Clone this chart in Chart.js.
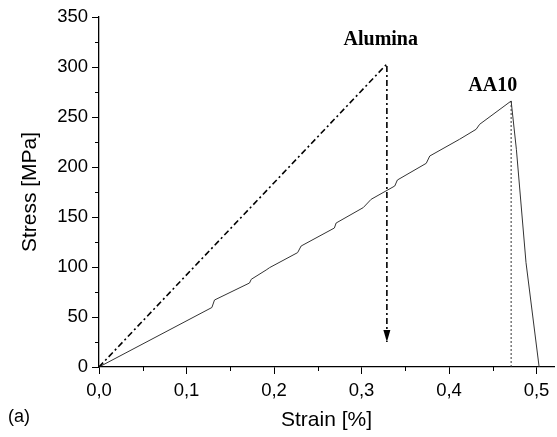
<!DOCTYPE html>
<html>
<head>
<meta charset="utf-8">
<script src="https://cdn.jsdelivr.net/npm/chart.js@4"></script>
<style>
  html, body { margin: 0; padding: 0; background: #fff; }
  #wrap { width: 557px; height: 437px; }
</style>
</head>
<body>
<div id="wrap"><canvas id="chart" width="557" height="437"></canvas></div>
<script>
// data
const aluminaStrain = [0, 0.329, 0.329];
const aluminaStress = [0, 303, 25];

const aa10Strain = [0, 0.129, 0.132, 0.172, 0.174, 0.191, 0.195, 0.227, 0.231, 0.269, 0.271, 0.302, 0.311, 0.338, 0.341, 0.374, 0.378, 0.412, 0.431, 0.435, 0.471, 0.477, 0.488, 0.503];
const aa10Stress = [0, 59.5, 67, 84, 87.7, 97, 99.4, 114.4, 121, 139, 144, 159.4, 167.7, 181, 187, 203.7, 211, 227.7, 237.7, 242.7, 266, 217.7, 104.4, 0];

// dotted drop line at the AA10 peak
const peakStrain = [0.471, 0.471];
const peakStress = [266, 0];

const xTickValues = [0, 0.05, 0.1, 0.15, 0.2, 0.25, 0.3, 0.35, 0.4, 0.45, 0.5];
const xTickLabels = ['0,0', '', '0,1', '', '0,2', '', '0,3', '', '0,4', '', '0,5'];
const yTickValues = [0, 25, 50, 75, 100, 125, 150, 175, 200, 225, 250, 275, 300, 325, 350];
const yTickLabels = ['0', '', '50', '', '100', '', '150', '', '200', '', '250', '', '300', '', '350'];

const seriesNames = ['Alumina', 'AA10'];
const nameStrain = [0.322, 0.450];
const nameStress = [322, 276];

const pts = (xs, ys) => xs.map((x, i) => ({ x: x, y: ys[i] }));

const tickFont = { family: 'Liberation Sans', size: 18.5 };
const titleFont = { family: 'Liberation Sans', size: 21 };

// minor ticks are shorter, draw them here; major ones come from the grid
const minorTicks = {
  id: 'minorTicks',
  afterDraw(chart) {
    const ctx = chart.ctx;
    const xs = chart.scales.x, ys = chart.scales.y;
    ctx.save();
    ctx.strokeStyle = '#000';
    ctx.lineWidth = 1;
    xTickValues.forEach((v, i) => {
      if (xTickLabels[i] !== '') return;
      const px = Math.round(xs.getPixelForValue(v)) + 0.5;
      ctx.beginPath(); ctx.moveTo(px, ys.bottom); ctx.lineTo(px, ys.bottom + 4); ctx.stroke();
    });
    yTickValues.forEach((v, i) => {
      if (yTickLabels[i] !== '') return;
      const py = Math.round(ys.getPixelForValue(v)) + 0.5;
      ctx.beginPath(); ctx.moveTo(xs.left, py); ctx.lineTo(xs.left - 4, py); ctx.stroke();
    });
    ctx.restore();
  }
};

const extras = {
  id: 'extras',
  afterDatasetsDraw(chart) {
    const ctx = chart.ctx;
    const xs = chart.scales.x, ys = chart.scales.y;
    ctx.save();
    // arrow head at the end of the alumina drop
    const meta = chart.getDatasetMeta(0);
    const tip = meta.data[meta.data.length - 1];
    ctx.fillStyle = '#000';
    ctx.beginPath();
    ctx.moveTo(tip.x, tip.y);
    ctx.lineTo(tip.x - 3.5, tip.y - 12);
    ctx.lineTo(tip.x + 3.5, tip.y - 12);
    ctx.closePath();
    ctx.fill();
    // series names
    ctx.font = 'bold 20px "Liberation Serif"';
    ctx.textAlign = 'center';
    ctx.textBaseline = 'alphabetic';
    seriesNames.forEach((t, i) => {
      ctx.fillText(t, xs.getPixelForValue(nameStrain[i]), ys.getPixelForValue(nameStress[i]));
    });
    // panel letter
    ctx.font = '18px "Liberation Sans"';
    ctx.textAlign = 'left';
    ctx.textBaseline = 'middle';
    ctx.fillText('(a)', 8, 417);
    ctx.restore();
  }
};

new Chart(document.getElementById('chart'), {
  type: 'scatter',
  data: {
    datasets: [
      {
        label: 'Alumina',
        data: pts(aluminaStrain, aluminaStress),
        showLine: true,
        borderColor: '#000',
        borderWidth: 1.6,
        borderDash: [6, 3, 2, 3],
        pointRadius: 0,
        fill: false
      },
      {
        label: 'AA10',
        data: pts(aa10Strain, aa10Stress),
        showLine: true,
        borderColor: '#333',
        borderWidth: 1,
        pointRadius: 0,
        tension: 0,
        fill: false
      },
      {
        label: 'peak',
        data: pts(peakStrain, peakStress),
        showLine: true,
        borderColor: '#333',
        borderWidth: 1,
        borderDash: [2, 2],
        pointRadius: 0,
        fill: false
      }
    ]
  },
  options: {
    responsive: false,
    animation: false,
    layout: { padding: { top: 17, right: 3, left: 0, bottom: 0 } },
    plugins: { legend: { display: false }, tooltip: { enabled: false } },
    scales: {
      x: {
        type: 'linear',
        min: 0,
        max: 0.52,
        afterBuildTicks: s => { s.ticks = xTickValues.map(v => ({ value: v })); },
        afterFit: s => { s.height = 70; },
        ticks: {
          autoSkip: false,
          maxRotation: 0,
          padding: 6,
          color: '#000',
          font: tickFont,
          callback: (v, i) => xTickLabels[i]
        },
        grid: {
          drawOnChartArea: false,
          tickLength: 7,
          tickWidth: 1,
          tickColor: c => (xTickLabels[c.index] === '' ? 'rgba(0,0,0,0)' : '#000')
        },
        border: { color: '#000', width: 1.3 },
        title: { display: true, text: 'Strain [%]', color: '#000', font: titleFont, padding: { top: 0, bottom: 4 } }
      },
      y: {
        type: 'linear',
        min: 0,
        max: 350,
        afterBuildTicks: s => { s.ticks = yTickValues.map(v => ({ value: v })); },
        afterFit: s => { s.width = 99; },
        ticks: {
          autoSkip: false,
          padding: 4,
          color: '#000',
          font: tickFont,
          callback: (v, i) => yTickLabels[i]
        },
        grid: {
          drawOnChartArea: false,
          tickLength: 7,
          tickWidth: 1,
          tickColor: c => (yTickLabels[c.index] === '' ? 'rgba(0,0,0,0)' : '#000')
        },
        border: { color: '#000', width: 1.3 },
        title: { display: true, text: 'Stress [MPa]', color: '#000', font: titleFont, padding: { top: 18, bottom: 0 } }
      }
    }
  },
  plugins: [minorTicks, extras]
});
</script>
</body>
</html>
